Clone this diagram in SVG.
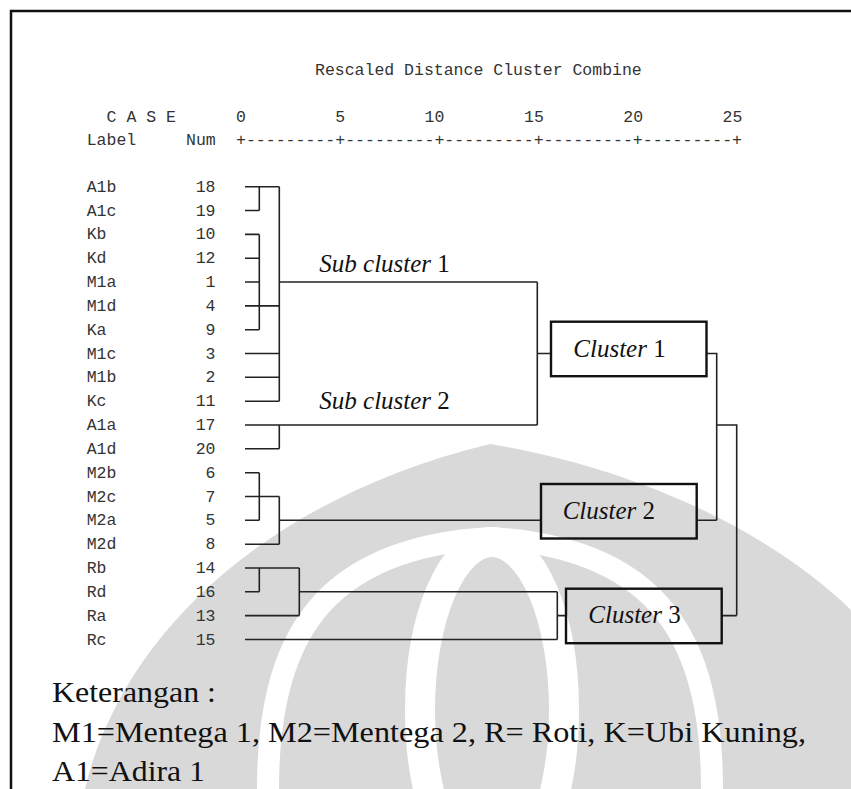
<svg xmlns="http://www.w3.org/2000/svg" width="851" height="789" viewBox="0 0 851 789">
<style>
.mono{font-family:"Liberation Mono","DejaVu Sans Mono",monospace;font-size:16.5px;fill:#333}
.num{text-anchor:end}
.ser{font-family:"Liberation Serif","Times New Roman",serif;font-size:25px;fill:#111}
.it{font-style:italic}
.ln{stroke:#222;stroke-width:1.6;fill:none}
.box{stroke:#111;stroke-width:2.4;fill:none}
.foot{font-family:"Liberation Serif","Times New Roman",serif;font-size:30px;fill:#111}
</style>
<rect width="851" height="789" fill="#fff"/>
<g id="watermark">
<path d="M85,789 C120,640 260,500 490,444 C650,470 780,540 851,610 L851,789 Z" fill="#d9d9d9"/>
<path d="M268,789 C268,640 320,548 490,538 C660,548 712,640 712,789" fill="none" stroke="#fff" stroke-width="22"/>
<ellipse cx="492" cy="710" rx="72" ry="168" fill="none" stroke="#fff" stroke-width="30"/>
</g>
<g id="frame">
<path d="M11,789 V11 H851" fill="none" stroke="#111" stroke-width="2.5"/>
</g>
<g id="header">
<text class="mono" x="315" y="75">Rescaled Distance Cluster Combine</text>
<text class="mono" x="106.6" y="121.7">C A S E</text>
<text class="mono" x="236" y="121.7">0</text>
<text class="mono" x="335.3" y="121.7">5</text>
<text class="mono" x="424.6" y="121.7">10</text>
<text class="mono" x="524" y="121.7">15</text>
<text class="mono" x="623.3" y="121.7">20</text>
<text class="mono" x="722.6" y="121.7">25</text>
<text class="mono" x="86.7" y="145">Label</text>
<text class="mono" x="186" y="145">Num</text>
<text class="mono" x="236" y="145" textLength="506" lengthAdjust="spacingAndGlyphs">+---------+---------+---------+---------+---------+</text>
</g>
<g id="cases">
<text class="mono" x="86.7" y="191.7">A1b</text><text class="mono num" x="215.5" y="191.7">18</text>
<text class="mono" x="86.7" y="215.5">A1c</text><text class="mono num" x="215.5" y="215.5">19</text>
<text class="mono" x="86.7" y="239.4">Kb</text><text class="mono num" x="215.5" y="239.4">10</text>
<text class="mono" x="86.7" y="263.2">Kd</text><text class="mono num" x="215.5" y="263.2">12</text>
<text class="mono" x="86.7" y="287">M1a</text><text class="mono num" x="215.5" y="287">1</text>
<text class="mono" x="86.7" y="310.9">M1d</text><text class="mono num" x="215.5" y="310.9">4</text>
<text class="mono" x="86.7" y="334.7">Ka</text><text class="mono num" x="215.5" y="334.7">9</text>
<text class="mono" x="86.7" y="358.5">M1c</text><text class="mono num" x="215.5" y="358.5">3</text>
<text class="mono" x="86.7" y="382.3">M1b</text><text class="mono num" x="215.5" y="382.3">2</text>
<text class="mono" x="86.7" y="406.2">Kc</text><text class="mono num" x="215.5" y="406.2">11</text>
<text class="mono" x="86.7" y="430">A1a</text><text class="mono num" x="215.5" y="430">17</text>
<text class="mono" x="86.7" y="453.8">A1d</text><text class="mono num" x="215.5" y="453.8">20</text>
<text class="mono" x="86.7" y="477.7">M2b</text><text class="mono num" x="215.5" y="477.7">6</text>
<text class="mono" x="86.7" y="501.5">M2c</text><text class="mono num" x="215.5" y="501.5">7</text>
<text class="mono" x="86.7" y="525.3">M2a</text><text class="mono num" x="215.5" y="525.3">5</text>
<text class="mono" x="86.7" y="549.2">M2d</text><text class="mono num" x="215.5" y="549.2">8</text>
<text class="mono" x="86.7" y="573">Rb</text><text class="mono num" x="215.5" y="573">14</text>
<text class="mono" x="86.7" y="596.8">Rd</text><text class="mono num" x="215.5" y="596.8">16</text>
<text class="mono" x="86.7" y="620.6">Ra</text><text class="mono num" x="215.5" y="620.6">13</text>
<text class="mono" x="86.7" y="644.5">Rc</text><text class="mono num" x="215.5" y="644.5">15</text>
</g>
<g id="connectors" class="ln">
<path d="M245,186.7 H279.3 M245,210.5 H259.3 M259.3,186.7 V210.5"/>
<path d="M245,234.4 H259.3 M245,258.2 H259.3 M245,282 H259.3 M245,329.7 H259.3 M245,305.9 H279.3 M259.3,234.4 V329.7"/>
<path d="M245,353.5 H279.3 M245,377.3 H279.3 M245,401.2 H279.3 M279.3,186.7 V401.2"/>
<path d="M279.3,282 H537.3"/>
<path d="M245,425 H537.3 M245,448.8 H279.3 M279.3,425 V448.8"/>
<path d="M537.3,282 V425 M537.3,353.5 H551"/>
<path d="M706.5,353.5 H716.7 V520.3 M696.7,520.3 H716.7"/>
<path d="M716.7,425 H736.7 V615.6 M721.7,615.6 H736.7"/>
<path d="M245,472.7 H259.3 M245,520.3 H259.3 M259.3,472.7 V520.3 M245,496.5 H279.3 M245,544.2 H279.3 M279.3,496.5 V544.2 M279.3,520.3 H541"/>
<path d="M245,568 H299.3 M245,615.6 H299.3 M245,591.8 H259.3 M259.3,568 V591.8 M299.3,568 V615.6 M299.3,591.8 H557.3"/>
<path d="M245,639.5 H557.3 M557.3,591.8 V639.5 M557.3,615.6 H566"/>
</g>
<g id="sub1"><text class="ser" x="319.3" y="271.7"><tspan class="it">Sub cluster</tspan> 1</text></g>
<g id="sub2"><text class="ser" x="319.3" y="409.3"><tspan class="it">Sub cluster</tspan> 2</text></g>
<g id="cluster1"><rect class="box" x="551" y="321.7" width="155.5" height="54.5" fill="#fff"/><text class="ser" x="573.3" y="356.7"><tspan class="it">Cluster</tspan> 1</text></g>
<g id="cluster2"><rect class="box" x="541" y="484" width="155.7" height="54.5"/><text class="ser" x="562.7" y="519"><tspan class="it">Cluster</tspan> 2</text></g>
<g id="cluster3"><rect class="box" x="566" y="588.7" width="155.7" height="54.5"/><text class="ser" x="588.3" y="623.3"><tspan class="it">Cluster</tspan> 3</text></g>
<g id="legend">
<text class="foot" x="52" y="702" textLength="164" lengthAdjust="spacingAndGlyphs">Keterangan :</text>
<text class="foot" x="52" y="742" textLength="754" lengthAdjust="spacingAndGlyphs">M1=Mentega 1, M2=Mentega 2, R= Roti, K=Ubi Kuning,</text>
<text class="foot" x="52" y="781" textLength="153" lengthAdjust="spacingAndGlyphs">A1=Adira 1</text>
</g>
</svg>
